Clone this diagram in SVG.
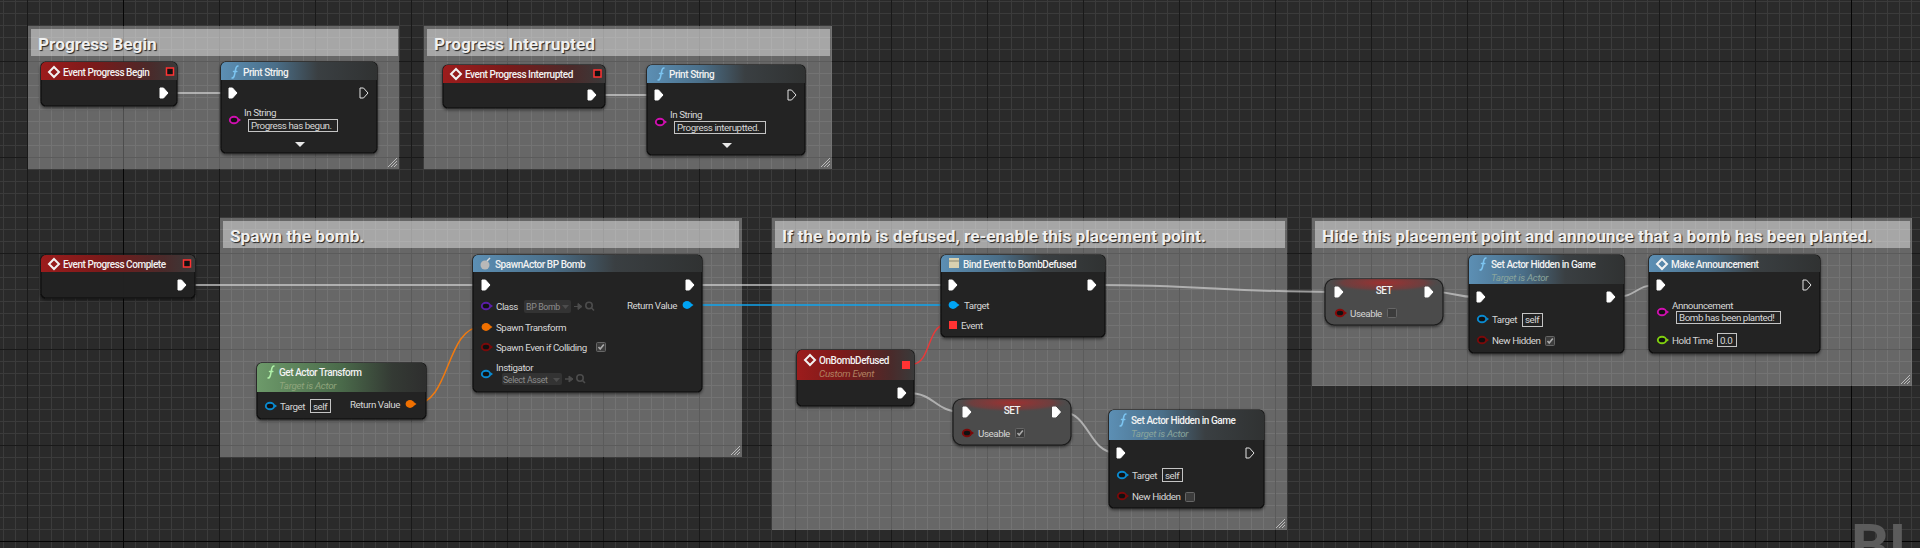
<svg xmlns="http://www.w3.org/2000/svg" width="1920" height="548" viewBox="0 0 1920 548">
<style>
text{font-family:Roboto,"Liberation Sans",sans-serif;fill:#d6d6d6;font-size:9.8px;letter-spacing:-.45px}
.t{fill:#f2f2f2;font-weight:500;font-size:10px}
.s{font-style:italic;font-size:9.8px;letter-spacing:-.3px}
.cm{fill:#fff;fill-opacity:.29}
.cb{fill:#fff;fill-opacity:.42}
.ct{fill:#f0f0f0;font-size:17.25px;font-weight:700;letter-spacing:0;text-shadow:1px 1px 1px #222}
.b{fill:#212421;fill-opacity:.97;stroke:#101010;stroke-width:1.2;filter:url(#sh)}
.sb{fill:#4b4b4b;stroke:#1c1c1c;stroke-width:1.2;filter:url(#sh)}
.box{fill:none;stroke:#c4c4c4;stroke-width:1}
.cx{fill:#3c3c3c;stroke:#666;stroke-width:1}
.dd{fill:#333;stroke:none}
.dt{fill:#8c8c8c;font-size:8.8px;letter-spacing:-.35px}
.dg{fill:#4c4c4c}
.w{fill:none;stroke:#d2d2d2;stroke-width:2;stroke-opacity:.68;stroke-linecap:round}
.fi{fill:none;stroke-width:1.5;stroke-linecap:round}
.ck{fill:none;stroke:#aaa;stroke-width:1.6}
</style>
<defs>
<pattern id="mn" width="12" height="12" x="3" y="1" patternUnits="userSpaceOnUse"><path d="M.5 0V12M0 .5H12" stroke="#3b3b3b" fill="none"/></pattern>
<pattern id="mj" width="96" height="96" x="27" y="61" patternUnits="userSpaceOnUse"><path d="M.5 0V96M0 .5H96" stroke="#191919" fill="none"/></pattern>
<filter id="sh" x="-10%" y="-10%" width="120%" height="125%"><feDropShadow dx="0" dy="1.5" stdDeviation="1.5" flood-color="#000" flood-opacity=".55"/></filter>
<linearGradient id="red"><stop offset="0" stop-color="#9c1c1c"/><stop offset=".4" stop-color="#7a1a1a"/><stop offset=".8" stop-color="#4a2a2a"/><stop offset="1" stop-color="#3a3a3a"/></linearGradient>
<linearGradient id="blue"><stop offset="0" stop-color="#5c8fb4"/><stop offset=".35" stop-color="#4a6e88"/><stop offset=".62" stop-color="#3a3f42"/><stop offset="1" stop-color="#303232"/></linearGradient>
<linearGradient id="green"><stop offset="0" stop-color="#6d9a6a"/><stop offset=".5" stop-color="#4a6a4a"/><stop offset=".8" stop-color="#343a34"/><stop offset="1" stop-color="#2e2e2e"/></linearGradient>
<radialGradient id="setr" cx=".5" cy=".2" r=".5"><stop offset="0" stop-color="#a03030"/><stop offset=".7" stop-color="#7a3a3a" stop-opacity=".7"/><stop offset="1" stop-color="#4b4b4b" stop-opacity="0"/></radialGradient>
<path id="ex" d="M-4-5H-.5L4 0-.5 5H-4Z" fill="#fff" stroke="#fff" stroke-width="1" stroke-linejoin="round"/>
<path id="eo" d="M-4-5H-.5L4 0-.5 5H-4Z" fill="none" stroke="#e4e4e4" stroke-width="1" stroke-linejoin="round"/>
<g id="pin"><ellipse rx="4.2" ry="3.3" fill="#111" stroke="currentColor" stroke-width="1.9"/><path d="M4.6-1.8 7 0 4.6 1.8Z" fill="currentColor"/></g>
<g id="pf"><ellipse rx="4.4" ry="3.9" fill="currentColor"/><path d="M4-1.8 6.5 0 4 1.8Z" fill="currentColor"/></g>
<path id="fi" class="fi" d="M3-6C1.200-6 .9-4.500 .5-2L-.5 3C-1 5.500-1.500 6-3 6M-1.500-.5H1.800"/>
<path id="di" d="M0-5 5 0 0 5-5 0Z" fill="none" stroke="#f2f2f2" stroke-width="2"/>
<g id="sq"><rect x="-3.500" y="-3.500" width="7" height="7" fill="#111" stroke="#f33" stroke-width="1.500"/></g>
<path id="ckm" class="ck" d="M-2.500 0-.8 2 2.800-2.500"/>
<g id="gr"><path d="M-9 0 0-9M-6 0 0-6M-3 0 0-3" stroke="#bbb" stroke-width="1" fill="none"/></g>
<path id="ga" d="M-4 0H0V-3L4 0 0 3V0Z" fill="#4c4c4c" stroke="#4c4c4c"/>
<g id="gs"><circle cx="-1" cy="-1" r="3.200" fill="none" stroke="#4c4c4c" stroke-width="1.600"/><path d="M1.500 1.500 4 4" stroke="#4c4c4c" stroke-width="1.600"/></g>
</defs>

<rect width="1920" height="548" fill="#2a2a2a"/>
<rect width="1920" height="548" fill="url(#mn)"/>
<rect width="1920" height="548" fill="url(#mj)"/>
<path d="M123.500 0V548M1851.500 0V548M0 541.500H1920" stroke="#050505" fill="none"/>

<text id="watermark" x="1851" y="566" style="font-size:60px;font-weight:700;fill:#5c5c5c;letter-spacing:0">BLU</text>

<g id="comment-progress-begin"><rect class="cm" x="28" y="26" width="371" height="143"/><rect class="cb" x="31" y="29" width="367" height="27"/><text class="ct" x="38" y="50">Progress Begin</text><use href="#gr" x="397" y="167"/></g>
<g id="comment-progress-interrupted"><rect class="cm" x="424" y="26" width="408" height="143"/><rect class="cb" x="427" y="29" width="403" height="27"/><text class="ct" x="434" y="50">Progress Interrupted</text><use href="#gr" x="830" y="167"/></g>
<g id="comment-spawn"><rect class="cm" x="220" y="218" width="522" height="239"/><rect class="cb" x="223" y="221" width="516" height="27"/><text class="ct" x="230" y="242">Spawn the bomb.</text><use href="#gr" x="740" y="455"/></g>
<g id="comment-defused"><rect class="cm" x="772" y="218" width="515" height="312"/><rect class="cb" x="775" y="221" width="510" height="27"/><text class="ct" x="782" y="242">If the bomb is defused, re-enable this placement point.</text><use href="#gr" x="1285" y="528"/></g>
<g id="comment-hide"><rect class="cm" x="1312" y="218" width="600" height="168"/><rect class="cb" x="1315" y="221" width="595" height="27"/><text class="ct" x="1322" y="242">Hide this placement point and announce that a bomb has been planted.</text><use href="#gr" x="1910" y="384"/></g>

<g id="connectors">
<path class="w" d="M172 93H228"/>
<path class="w" d="M600 95H654"/>
<path class="w" d="M192 285H478"/>
<path class="w" d="M695 285H948"/>
<path class="w" d="M1097 285C1200 285 1230 292 1334 292"/>
<path class="w" d="M908 393C935 393 935 412 962 412"/>
<path class="w" d="M1062 412C1089 412 1089 453 1116 453"/>
<path class="w" d="M1434 292C1455 292 1455 297 1476 297"/>
<path class="w" d="M1616 297C1636 297 1636 285 1656 285"/>
<path fill="none" stroke="#0fa4ee" stroke-width="1.500" d="M692 305H948"/>
<path fill="none" stroke="#f07a10" stroke-width="1.500" d="M415 404C450 404 446 327 481 327"/>
<path fill="none" stroke="#e83a3a" stroke-width="1.500" d="M913 364C930 364 928 325 945 325"/>
</g>

<g id="node-event-begin"><rect class="b" x="41" y="62" width="136" height="44" rx="5"/><path fill="url(#red)" d="M41 80V67a5 5 0 0 1 5-5H172a5 5 0 0 1 5 5V80Z"/><use href="#di" x="54" y="72"/><text class="t" x="63" y="75.500">Event Progress Begin</text><use href="#sq" x="170" y="71.500"/><use href="#ex" x="164" y="93"/></g>

<g id="node-print-begin"><rect class="b" x="221" y="62" width="156" height="91" rx="5"/><path fill="url(#blue)" d="M221 80V67a5 5 0 0 1 5-5H372a5 5 0 0 1 5 5V80Z"/><use href="#fi" x="235" y="72" stroke="#7cc4f0"/><text class="t" x="243" y="75.500">Print String</text><use href="#ex" x="233" y="93"/><use href="#eo" x="364" y="93"/><use href="#pin" x="234" y="120" style="color:#d010b0"/><text x="244" y="116">In String</text><rect class="box" x="248.500" y="119.500" width="89" height="12"/><text x="251" y="128.500">Progress has begun.</text><path d="M295 142H305L300 147Z" fill="#e8e8e8"/></g>

<g id="node-event-interrupted"><rect class="b" x="443" y="65" width="162" height="43" rx="5"/><path fill="url(#red)" d="M443 83V70a5 5 0 0 1 5-5H600a5 5 0 0 1 5 5V83Z"/><use href="#di" x="456" y="74"/><text class="t" x="465" y="77.500">Event Progress Interrupted</text><use href="#sq" x="597.500" y="73.500"/><use href="#ex" x="592" y="95"/></g>

<g id="node-print-interrupted"><rect class="b" x="647" y="65" width="158" height="90" rx="5"/><path fill="url(#blue)" d="M647 83V70a5 5 0 0 1 5-5H800a5 5 0 0 1 5 5V83Z"/><use href="#fi" x="661" y="74" stroke="#7cc4f0"/><text class="t" x="669" y="77.500">Print String</text><use href="#ex" x="659" y="95"/><use href="#eo" x="792" y="95"/><use href="#pin" x="660" y="122" style="color:#d010b0"/><text x="670" y="118">In String</text><rect class="box" x="674.500" y="121.500" width="91" height="12"/><text x="677" y="130.500">Progress interuptted.</text><path d="M722 143H732L727 148Z" fill="#e8e8e8"/></g>

<g id="node-event-complete"><rect class="b" x="41" y="255" width="154" height="43" rx="5"/><path fill="url(#red)" d="M41 272V260a5 5 0 0 1 5-5H190a5 5 0 0 1 5 5V272Z"/><use href="#di" x="54" y="264"/><text class="t" x="63" y="267.500">Event Progress Complete</text><use href="#sq" x="187" y="263.500"/><use href="#ex" x="182" y="285"/></g>

<g id="node-get-transform"><rect class="b" x="257" y="363" width="169" height="56" rx="5"/><path fill="url(#green)" d="M257 392V368a5 5 0 0 1 5-5H421a5 5 0 0 1 5 5V392Z"/><use href="#fi" x="271" y="372" stroke="#b0f0a8"/><text class="t" x="279" y="375.500">Get Actor Transform</text><text class="s" x="279" y="388.500" style="fill:#8fa57c">Target is Actor</text><use href="#pin" x="270" y="406" style="color:#0a8ad0"/><text x="280" y="409.500">Target</text><rect class="box" x="310.500" y="399.500" width="20" height="13"/><text x="313" y="409.500">self</text><text x="350" y="407.500">Return Value</text><use href="#pf" x="410" y="404" style="color:#f07000"/></g>

<g id="node-spawn"><rect class="b" x="473" y="255" width="229" height="137" rx="5"/><path fill="url(#blue)" d="M473 272V260a5 5 0 0 1 5-5H697a5 5 0 0 1 5 5V272Z"/><circle cx="485" cy="265" r="4.500" fill="#b8b8b8"/><path d="M487 261 490 258" stroke="#ddd" stroke-width="1.500"/><text class="t" x="495" y="267.500">SpawnActor BP Bomb</text><use href="#ex" x="486" y="285"/><use href="#ex" x="690" y="285"/>
<use href="#pin" x="486" y="306" style="color:#5a1ea8"/><text x="496" y="309.500">Class</text><rect class="dd" x="524" y="300" width="47" height="13" rx="2"/><text class="dt" x="526" y="309.500">BP Bomb</text><path d="M562 305H569L565.500 309Z" class="dg"/><use href="#ga" x="578" y="306.500"/><use href="#gs" x="590" y="306.500"/>
<text x="627" y="308.500">Return Value</text><use href="#pf" x="687" y="305" style="color:#00a4f4"/>
<use href="#pf" x="486" y="327" style="color:#f07000"/><text x="496" y="330.500">Spawn Transform</text>
<use href="#pin" x="486" y="347" style="color:#7a0a0a"/><text x="496" y="350.500">Spawn Even if Colliding</text><rect class="cx" x="596.500" y="342.500" width="9" height="9" rx="1"/><use href="#ckm" x="601" y="347"/>
<text x="496" y="370.500">Instigator</text><use href="#pin" x="486" y="374" style="color:#0a8ad0"/><rect class="dd" x="502" y="373" width="60" height="12" rx="2"/><text class="dt" x="503" y="382.500">Select Asset</text><path d="M553 378H560L556.500 382Z" class="dg"/><use href="#ga" x="569" y="379"/><use href="#gs" x="581" y="379"/></g>

<g id="node-bind"><rect class="b" x="941" y="255" width="164" height="82" rx="5"/><path fill="url(#blue)" d="M941 272V260a5 5 0 0 1 5-5H1100a5 5 0 0 1 5 5V272Z"/><rect x="949" y="258" width="10" height="10" fill="#d8d0b0"/><path d="M949 261H959" stroke="#8a8670"/><text class="t" x="963" y="267.500">Bind Event to BombDefused</text><use href="#ex" x="953" y="285"/><use href="#ex" x="1092" y="285"/><use href="#pf" x="953" y="305" style="color:#00a4f4"/><text x="964" y="308.500">Target</text><rect x="949" y="321" width="8" height="8" fill="#f33"/><text x="961" y="328.500">Event</text></g>

<g id="node-onbomb"><rect class="b" x="797" y="350" width="117" height="56" rx="5"/><path fill="url(#red)" d="M797 380V355a5 5 0 0 1 5-5H909a5 5 0 0 1 5 5V380Z"/><use href="#di" x="810" y="360"/><text class="t" x="819" y="363.500">OnBombDefused</text><text class="s" x="819" y="376.500" style="fill:#b08060">Custom Event</text><rect x="902" y="361" width="8" height="8" fill="#f33"/><use href="#ex" x="902" y="393"/></g>

<g id="node-set-true"><rect class="sb" x="953" y="399" width="118" height="46" rx="9"/><path fill="url(#setr)" d="M953 418V408a9 9 0 0 1 9-9H1062a9 9 0 0 1 9 9V418Z"/><use href="#ex" x="967" y="412"/><use href="#ex" x="1056.500" y="412"/><text class="t" x="1012" y="413.500" text-anchor="middle">SET</text><use href="#pin" x="967" y="433" style="color:#7a0a0a"/><text x="978" y="436.500">Useable</text><rect class="cx" x="1015.500" y="428.500" width="9" height="9" rx="1"/><use href="#ckm" x="1020" y="433"/></g>

<g id="node-hidden-false"><rect class="b" x="1109" y="410" width="155" height="98" rx="5"/><path fill="url(#blue)" d="M1109 440V415a5 5 0 0 1 5-5H1259a5 5 0 0 1 5 5V440Z"/><use href="#fi" x="1123" y="420" stroke="#7cc4f0"/><text class="t" x="1131" y="423.500">Set Actor Hidden in Game</text><text class="s" x="1131" y="436.500" style="fill:#8aa59c">Target is Actor</text><use href="#ex" x="1121" y="453"/><use href="#eo" x="1250" y="453"/><use href="#pin" x="1122" y="475" style="color:#0a8ad0"/><text x="1132" y="478.500">Target</text><rect class="box" x="1162.500" y="468.500" width="20" height="13"/><text x="1165" y="478.500">self</text><use href="#pin" x="1122" y="496" style="color:#7a0a0a"/><text x="1132" y="499.500">New Hidden</text><rect class="cx" x="1185.500" y="492.500" width="9" height="9" rx="1"/></g>

<g id="node-set-false"><rect class="sb" x="1325" y="279" width="118" height="46" rx="9"/><path fill="url(#setr)" d="M1325 298V288a9 9 0 0 1 9-9H1434a9 9 0 0 1 9 9V298Z"/><use href="#ex" x="1339" y="292"/><use href="#ex" x="1429" y="292"/><text class="t" x="1384" y="293.500" text-anchor="middle">SET</text><use href="#pin" x="1340" y="313" style="color:#8a0a0a"/><text x="1350" y="316.500">Useable</text><rect class="cx" x="1387.500" y="308.500" width="9" height="9" rx="1"/></g>

<g id="node-hidden-true"><rect class="b" x="1469" y="255" width="155" height="98" rx="5"/><path fill="url(#blue)" d="M1469 284V260a5 5 0 0 1 5-5H1619a5 5 0 0 1 5 5V284Z"/><use href="#fi" x="1483" y="264" stroke="#7cc4f0"/><text class="t" x="1491" y="267.500">Set Actor Hidden in Game</text><text class="s" x="1491" y="280.500" style="fill:#8aa59c">Target is Actor</text><use href="#ex" x="1481" y="297"/><use href="#ex" x="1611" y="297"/><use href="#pin" x="1482" y="319" style="color:#0a8ad0"/><text x="1492" y="322.500">Target</text><rect class="box" x="1522.500" y="313.500" width="20" height="13"/><text x="1525" y="322.500">self</text><use href="#pin" x="1482" y="340" style="color:#7a0a0a"/><text x="1492" y="343.500">New Hidden</text><rect class="cx" x="1545.500" y="336.500" width="9" height="9" rx="1"/><use href="#ckm" x="1550" y="341"/></g>

<g id="node-announce"><rect class="b" x="1649" y="255" width="171" height="98" rx="5"/><path fill="url(#blue)" d="M1649 272V260a5 5 0 0 1 5-5H1815a5 5 0 0 1 5 5V272Z"/><use href="#di" x="1662" y="264"/><text class="t" x="1671" y="267.500">Make Announcement</text><use href="#ex" x="1661" y="285"/><use href="#eo" x="1807" y="285"/><text x="1672" y="308.500">Announcement</text><use href="#pin" x="1662" y="312" style="color:#d010b0"/><rect class="box" x="1676.500" y="311.500" width="104" height="12"/><text x="1679" y="320.500">Bomb has been planted!</text><use href="#pin" x="1662" y="340" style="color:#80d010"/><text x="1672" y="343.500">Hold Time</text><rect class="box" x="1717.500" y="333.500" width="19" height="13"/><text x="1720" y="343.500">0.0</text></g>
</svg>
